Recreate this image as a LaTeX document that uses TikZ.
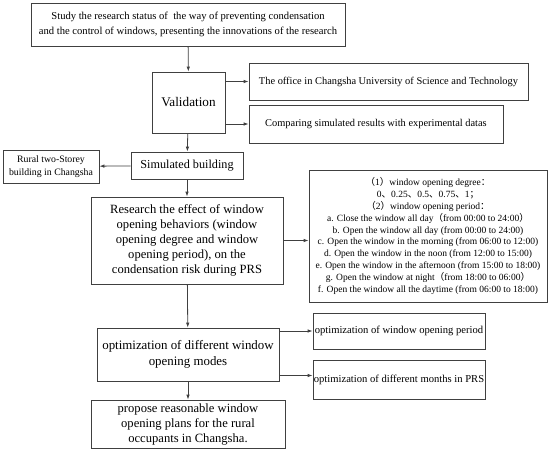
\documentclass[tikz,border=0pt]{standalone}
\usepackage{fontspec}
\setmainfont{Liberation Serif}
\newfontfamily\cjk{Noto Sans CJK SC}
\usetikzlibrary{arrows.meta}
\definecolor{lc}{HTML}{404040}
\begin{document}
\begin{tikzpicture}[x=1pt,y=-1pt,
  bx/.style={draw=lc,line width=0.8pt,inner sep=0pt,align=center,fill=white},
  arr/.style={draw=lc,line width=0.8pt,-{Latex[length=5pt,width=3.5pt]}}]
\useasboundingbox[fill=white] (0,0) rectangle (550,451);
\node[bx,minimum width=314,minimum height=43,font=\fontsize{10.6}{14.5}\selectfont] (box1) at (188,24.5)
  {Study the research status of\ \ the way of preventing condensation\\and the control of windows, presenting the innovations of the research};
\node[bx,minimum width=73,minimum height=61,font=\fontsize{13.2}{15}\selectfont] (valid) at (188.5,102.5) {Validation};
\node[bx,minimum width=279,minimum height=37,font=\fontsize{10.4}{12}\selectfont] (office) at (388.5,81.5)
  {The office in Changsha University of Science and Technology};
\node[bx,minimum width=254,minimum height=38,font=\fontsize{10.4}{12}\selectfont] (compare) at (376,124)
  {Comparing simulated results with experimental datas};
\node[bx,minimum width=96,minimum height=33,font=\fontsize{9.8}{13.5}\selectfont] (rural) at (51,166.5)
  {Rural two-Storey\\building in Changsha};
\node[bx,minimum width=112,minimum height=27,font=\fontsize{12.2}{15}\selectfont] (sim) at (187,165.5) {Simulated building};
\node[bx,minimum width=192,minimum height=87,font=\fontsize{12.6}{15.2}\selectfont] (research) at (187,240.5)
  {Research the effect of window\\opening behaviors (window\\opening degree and window\\opening period), on the\\condensation risk during PRS};
\node[bx,minimum width=238,minimum height=132,font=\fontsize{9.5}{11.9}\selectfont] (window) at (428,236)
  {{\cjk （}1{\cjk ）}window opening degree{\cjk ：}\\
   0{\cjk 、}0.25{\cjk 、}0.5{\cjk 、}0.75{\cjk 、}1{\cjk ；}\\
   {\cjk （}2{\cjk ）}window opening period{\cjk ：}\\
   a. Close the window all day{\cjk （}from 00:00 to 24:00{\cjk ）}\\
   b. Open the window all day (from 00:00 to 24:00)\\
   c. Open the window in the morning (from 06:00 to 12:00)\\
   d. Open the window in the noon (from 12:00 to 15:00)\\
   e. Open the window in the afternoon (from 15:00 to 18:00)\\
   g. Open the window at night{\cjk （}from 18:00 to 06:00{\cjk ）}\\
   f. Open the window all the daytime (from 06:00 to 18:00)};
\node[bx,minimum width=182,minimum height=53,font=\fontsize{12.9}{16}\selectfont] (modes) at (188,354.5)
  {optimization of different window\\opening modes};
\node[bx,minimum width=172,minimum height=36,font=\fontsize{10.6}{12}\selectfont] (period) at (399,331)
  {optimization of window opening period};
\node[bx,minimum width=172,minimum height=39,font=\fontsize{10.6}{12}\selectfont] (months) at (399,379.5)
  {optimization of different months in PRS};
\node[bx,minimum width=194,minimum height=48,font=\fontsize{12.6}{15}\selectfont] (propose) at (188,424)
  {propose reasonable window\\opening plans for the rural\\occupants in Changsha.};
\draw[arr] (box1) -- (valid);
\draw[arr] (valid.east |- office.west) -- (office.west);
\draw[arr] (valid.east |- compare.west) -- (compare.west);
\draw[arr] (valid) -- (sim);
\draw[arr] (sim) -- (rural);
\draw[arr] (sim) -- (research);
\draw[arr] (research.east) -- (research.east -| window.west);
\draw[arr] (research) -- (modes);
\draw[arr] (modes.east |- period.west) -- (period.west);
\draw[arr] ([yshift=4pt]modes.east |- months.west) -- ([yshift=4pt]months.west);
\draw[arr] (modes) -- (propose);
\end{tikzpicture}
\end{document}
